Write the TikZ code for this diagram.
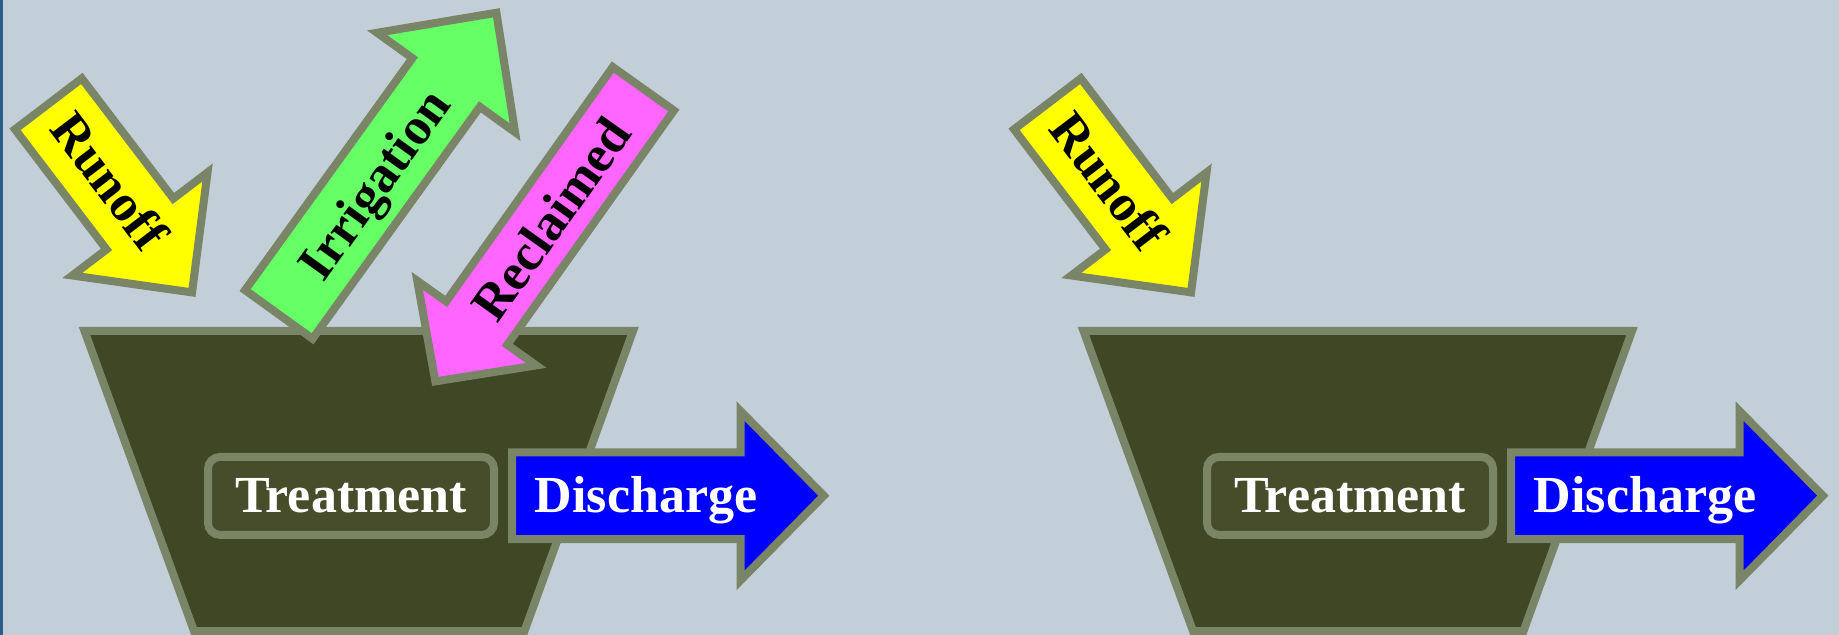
\documentclass[tikz,border=0pt]{standalone}
\usepackage{fontspec}
\setmainfont{Liberation Serif}
\definecolor{bg}{HTML}{C2CFD9}
\definecolor{edgec}{HTML}{7A8466}
\definecolor{funnelc}{HTML}{3F4724}
\definecolor{boxc}{HTML}{474C2A}
\definecolor{stripc}{HTML}{2B5D8A}
\definecolor{yel}{HTML}{FFFF00}
\definecolor{grn}{HTML}{66FF66}
\definecolor{pnk}{HTML}{FF66FF}
\definecolor{blu}{HTML}{0000FF}
\tikzset{
  outline/.style={draw=edgec, line width=4pt},
  lbl/.style={font=\bfseries\fontsize{26}{30}\selectfont, inner sep=0pt},
  tbox/.style={outline, fill=boxc, rounded corners=6pt, minimum width=143pt,
    minimum height=39pt, inner sep=0pt, text=white,
    font=\bfseries\fontsize{26}{30}\selectfont},
}
% #1 shift, #2 rotate, #3 fill, #4 tail, #5 half width, #6 head base, #7 head half width, #8 tip
\newcommand\bigarrow[8]{%
  \begin{scope}[shift={#1}, rotate=#2]
    \draw[outline, fill=#3] (#4,#5) -- (#6,#5) -- (#6,#7) -- (#8,0) -- (#6,-#7) -- (#6,-#5) -- (#4,-#5) -- cycle;
  \end{scope}}
\begin{document}
\begin{tikzpicture}[x=0.5pt, y=-0.5pt]
  \useasboundingbox (0,0) rectangle (1839,635);
  \fill[bg] (0,0) rectangle (1839,635);
  \fill[stripc] (0,0) rectangle (3,635);
  % ---------- left diagram ----------
  \draw[outline, fill=funnelc] (84.5,331) -- (633,331) -- (524.5,631) -- (194,631) -- cycle;
  \node[tbox] (treatL) at (351,495.9) {Treatment};
  \bigarrow{(508,495.7)}{0}{blu}{4}{43.4}{232.5}{84.7}{315.8}
  \node[lbl, text=white, anchor=base] (dischL) at (646,512) {Discharge};
  \bigarrow{(46,100.7)}{-52.7}{yel}{4}{42}{155}{85}{241}
  \node[lbl, rotate=-52.7] (runoffL) at (110,181) {Runoff};
  \bigarrow{(276.5,317.7)}{54.2}{grn}{4}{41.6}{290}{85}{376}
  \node[lbl, rotate=54.2] (irrig) at (378,187) {Irrigation};
  \bigarrow{(645.6,85.5)}{-125.4}{pnk}{4}{37.5}{291.5}{73}{363}
  \node[lbl, rotate=54.6] (reclaim) at (551,219) {Reclaimed};
  % ---------- right diagram ----------
  \begin{scope}[shift={(999,0)}]
    \draw[outline, fill=funnelc] (84.5,331) -- (633,331) -- (524.5,631) -- (194,631) -- cycle;
    \node[tbox] (treatR) at (351,495.9) {Treatment};
    \bigarrow{(508,495.7)}{0}{blu}{4}{43.4}{232.5}{84.7}{315.8}
    \node[lbl, text=white, anchor=base] (dischR) at (646,512) {Discharge};
    \bigarrow{(46,100.7)}{-52.7}{yel}{4}{42}{155}{85}{241}
    \node[lbl, rotate=-52.7] (runoffR) at (110,181) {Runoff};
  \end{scope}
\end{tikzpicture}
\end{document}
